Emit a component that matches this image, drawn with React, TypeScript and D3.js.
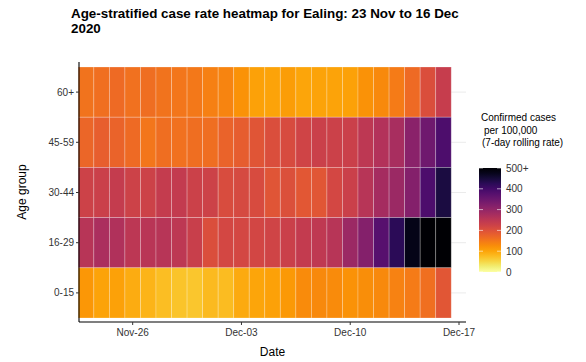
import React from "react";
import * as d3 from "d3";

const ageGroups = ["60+", "45-59", "30-44", "16-29", "0-15"];
const startDate = "2020-11-23";

const rate60plus = [155, 160, 165, 158, 162, 155, 152, 150, 140, 135, 120, 105, 102, 108, 100, 103, 102, 105, 120, 130, 145, 165, 205, 235];
const rate45to59 = [170, 180, 175, 165, 152, 162, 158, 162, 162, 175, 182, 195, 205, 210, 222, 230, 228, 230, 248, 260, 275, 312, 345, 385];
const rate30to44 = [225, 230, 238, 225, 225, 238, 240, 228, 225, 208, 212, 210, 195, 202, 190, 192, 215, 230, 255, 278, 290, 320, 385, 445];
const rate16to29 = [255, 270, 265, 250, 253, 255, 248, 232, 205, 215, 215, 218, 222, 230, 240, 245, 255, 290, 320, 375, 425, 480, 540, 560];
const rate0to15 = [115, 102, 105, 92, 85, 75, 70, 68, 80, 78, 95, 100, 105, 112, 128, 130, 128, 120, 125, 130, 138, 145, 160, 192];

const seriesByGroup: Record<string, number[]> = {
  "60+": rate60plus,
  "45-59": rate45to59,
  "30-44": rate30to44,
  "16-29": rate16to29,
  "0-15": rate0to15,
};

const xTickDates = ["2020-11-26", "2020-12-03", "2020-12-10", "2020-12-17"];
const legendTicks = [0, 100, 200, 300, 400, 500];
const legendMax = 500;

const parse = (s: string) => new Date(s + "T00:00:00Z");
const DAY = 86400000;

export default function App() {
  const W = 586, H = 362;
  const font = "Liberation Sans, Arial, sans-serif";
  const t0 = parse(startDate).getTime();
  const x = d3.scaleUtc()
    .domain([new Date(t0 - 0.5 * DAY), new Date(t0 + 24.45 * DAY)])
    .range([78.3, 466]);
  const panelLeft = 79, panelRight = 466, panelTop = 62, panelBottom = 322;
  const y = d3.scaleBand<string>().domain(ageGroups).range([67, 318]).padding(0);
  const color = (v: number) => d3.interpolateInferno(1 - Math.min(v, legendMax) / legendMax);
  const fmt = d3.utcFormat("%b-%d");

  const cells: { g: string; d: number; v: number }[] = [];
  ageGroups.forEach((g) => {
    seriesByGroup[g].forEach((v, i) => cells.push({ g, d: i, v }));
  });

  const lg = d3.scaleLinear().domain([0, legendMax]).range([272, 168]);
  const barX = 479, barW = 22;
  const gradStops = d3.range(0, 1.0001, 0.05);

  return (
    <svg width={W} height={H} style={{ position: "absolute", left: 0, top: 0, background: "#fff" }} fontFamily={font}>
      <defs>
        <linearGradient id="lgrad" x1="0" y1="1" x2="0" y2="0">
          {gradStops.map((s) => (
            <stop key={s} offset={s} stopColor={color(s * legendMax)} />
          ))}
        </linearGradient>
      </defs>
      {/* title */}
      <text x={71} y={18} fontSize={13.4} fontWeight="bold" fill="#000">
        Age-stratified case rate heatmap for Ealing: 23 Nov to 16 Dec
      </text>
      <text x={71} y={33} fontSize={13.4} fontWeight="bold" fill="#000">2020</text>

      {/* grid lines */}
      {ageGroups.map((g) => (
        <line key={g} x1={panelLeft} x2={panelRight} y1={y(g)! + y.bandwidth() / 2} y2={y(g)! + y.bandwidth() / 2} stroke="#ebebeb" strokeWidth={1} />
      ))}

      {/* tiles */}
      {cells.map((c) => {
        const x0 = x(new Date(t0 + (c.d - 0.5) * DAY));
        const x1 = x(new Date(t0 + (c.d + 0.5) * DAY));
        return (
          <rect key={c.g + c.d} x={x0} y={y(c.g)} width={x1 - x0} height={y.bandwidth()}
            fill={color(c.v)} stroke="rgba(255,255,255,0.3)" strokeWidth={0.8} />
        );
      })}

      {/* axes */}
      <line x1={panelLeft} x2={panelLeft} y1={panelTop} y2={panelBottom} stroke="#000" strokeWidth={1.1} />
      <line x1={panelLeft} x2={panelRight} y1={panelBottom} y2={panelBottom} stroke="#000" strokeWidth={1.1} />
      {ageGroups.map((g) => {
        const cy = y(g)! + y.bandwidth() / 2;
        return (
          <g key={g}>
            <line x1={panelLeft - 3} x2={panelLeft} y1={cy} y2={cy} stroke="#333" />
            <text x={panelLeft - 5} y={cy} dy="0.35em" textAnchor="end" fontSize={10} fill="#333">{g}</text>
          </g>
        );
      })}
      {xTickDates.map((s) => {
        const px = x(parse(s));
        return (
          <g key={s}>
            <line x1={px} x2={px} y1={panelBottom} y2={panelBottom + 3} stroke="#333" />
            <text x={px} y={336} textAnchor="middle" fontSize={10} fill="#333">{fmt(parse(s))}</text>
          </g>
        );
      })}
      <text x={(panelLeft + panelRight) / 2} y={356} textAnchor="middle" fontSize={12} fill="#000">Date</text>
      <text transform={`translate(26,${(panelTop + panelBottom) / 2}) rotate(-90)`} textAnchor="middle" fontSize={12} fill="#000">Age group</text>

      {/* legend */}
      <text x={481} y={121} fontSize={10} fill="#000">Confirmed cases</text>
      <text x={484} y={133.5} fontSize={10} fill="#000">per 100,000</text>
      <text x={482} y={146} fontSize={10} fill="#000">(7-day rolling rate)</text>
      <rect x={barX} y={lg(legendMax)} width={barW} height={lg(0) - lg(legendMax)} fill="url(#lgrad)" />
      {legendTicks.map((t) => (
        <g key={t}>
          <line x1={barX} x2={barX + 4} y1={lg(t)} y2={lg(t)} stroke="#fff" strokeOpacity={0.6} />
          <line x1={barX + barW - 4} x2={barX + barW} y1={lg(t)} y2={lg(t)} stroke="#fff" strokeOpacity={0.6} />
          <text x={506} y={lg(t)} dy="0.35em" fontSize={10} fill="#333">{t === legendMax ? "500+" : String(t)}</text>
        </g>
      ))}
    </svg>
  );
}
